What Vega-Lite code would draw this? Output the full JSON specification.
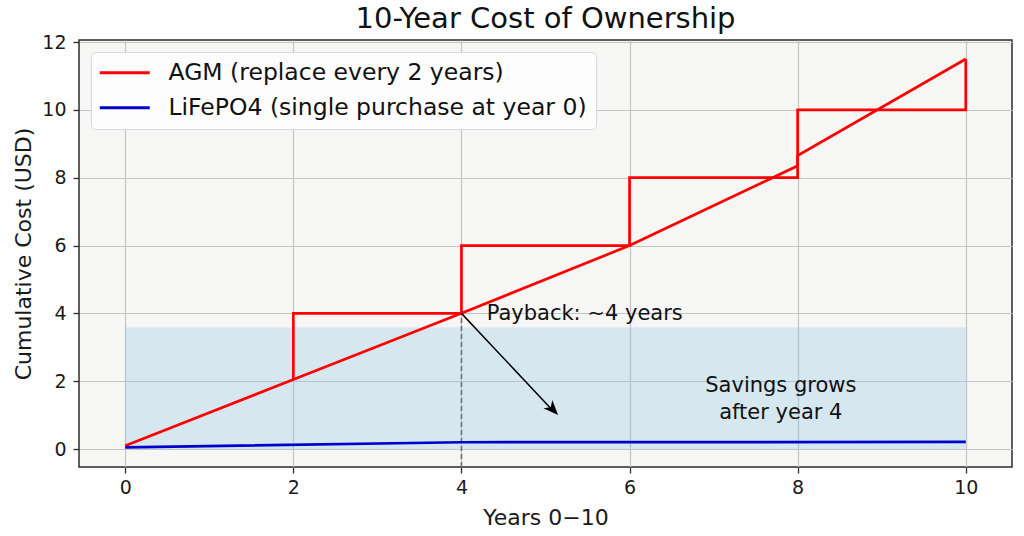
{
  "$schema": "https://vega.github.io/schema/vega-lite/v6.json",
  "description": "10-year cost of ownership: AGM vs LiFePO4",
  "width": 933,
  "height": 427,
  "autosize": {"type": "none"},
  "padding": {"left": 79, "top": 40, "right": 12, "bottom": 69},
  "background": "#ffffff",
  "title": {
    "text": "10-Year Cost of Ownership",
    "fontSize": 29,
    "fontWeight": "normal",
    "color": "#111111",
    "anchor": "middle",
    "baseline": "bottom",
    "offset": 4,
    "dy": 34
  },
  "config": {
    "font": "DejaVu Sans",
    "view": {"fill": "#f6f6f4", "stroke": "#2b2b2b", "strokeWidth": 1.5},
    "axis": {
      "domain": false,
      "grid": true,
      "gridColor": "#c4c4c4",
      "gridWidth": 1.2,
      "tickColor": "#2b2b2b",
      "tickSize": 6,
      "tickWidth": 1.3,
      "labelFontSize": 19,
      "labelColor": "#1a1a1a",
      "titleFontSize": 22,
      "titleFontWeight": "normal",
      "titleColor": "#1a1a1a"
    }
  },
  "encoding": {
    "x": {
      "field": "x",
      "type": "quantitative",
      "scale": {"domain": [-0.55, 10.55], "nice": false, "zero": false},
      "axis": {"values": [0, 2, 4, 6, 8, 10], "title": "Years 0−10", "labelPadding": 5, "titlePadding": 10}
    },
    "y": {
      "field": "y",
      "type": "quantitative",
      "scale": {"domain": [-0.53, 12.06], "nice": false, "zero": false},
      "axis": {"values": [0, 2, 4, 6, 8, 10, 12], "title": "Cumulative Cost (USD)", "labelPadding": 7, "titlePadding": 6}
    }
  },
  "layer": [
    {
      "data": {"values": [{"x": 0, "x2": 10, "y": 0, "y2": 3.58}]},
      "mark": {"type": "rect", "fill": "#8ec6ea", "opacity": 0.3, "stroke": "#8ec6ea", "strokeWidth": 1, "strokeOpacity": 0.4},
      "encoding": {"x2": {"field": "x2"}, "y2": {"field": "y2"}}
    },
    {
      "data": {"values": [{"x": 4, "y": -0.53, "y2": 4}]},
      "mark": {"type": "rule", "color": "#6a6a6a", "strokeWidth": 1.5, "strokeDash": [5, 3]},
      "encoding": {"y2": {"field": "y2"}}
    },
    {
      "data": {
        "values": [
          {"series": "AGM (replace every 2 years)", "part": "trend", "i": 1, "x": 0, "y": 0.1},
          {"series": "AGM (replace every 2 years)", "part": "trend", "i": 2, "x": 2, "y": 2.05},
          {"series": "AGM (replace every 2 years)", "part": "trend", "i": 3, "x": 4, "y": 4.0},
          {"series": "AGM (replace every 2 years)", "part": "trend", "i": 4, "x": 6, "y": 6.0},
          {"series": "AGM (replace every 2 years)", "part": "trend", "i": 5, "x": 8, "y": 8.35},
          {"series": "AGM (replace every 2 years)", "part": "trend", "i": 6, "x": 8, "y": 8.65},
          {"series": "AGM (replace every 2 years)", "part": "trend", "i": 7, "x": 10, "y": 11.5},
          {"series": "AGM (replace every 2 years)", "part": "step", "i": 1, "x": 2, "y": 2.05},
          {"series": "AGM (replace every 2 years)", "part": "step", "i": 2, "x": 2, "y": 4},
          {"series": "AGM (replace every 2 years)", "part": "step", "i": 3, "x": 4, "y": 4},
          {"series": "AGM (replace every 2 years)", "part": "step", "i": 4, "x": 4, "y": 6},
          {"series": "AGM (replace every 2 years)", "part": "step", "i": 5, "x": 6, "y": 6},
          {"series": "AGM (replace every 2 years)", "part": "step", "i": 6, "x": 6, "y": 8},
          {"series": "AGM (replace every 2 years)", "part": "step", "i": 7, "x": 8, "y": 8},
          {"series": "AGM (replace every 2 years)", "part": "step", "i": 8, "x": 8, "y": 10},
          {"series": "AGM (replace every 2 years)", "part": "step", "i": 9, "x": 10, "y": 10},
          {"series": "AGM (replace every 2 years)", "part": "step", "i": 10, "x": 10, "y": 11.5},
          {"series": "LiFePO4 (single purchase at year 0)", "part": "lfp", "i": 1, "x": 0, "y": 0.05},
          {"series": "LiFePO4 (single purchase at year 0)", "part": "lfp", "i": 2, "x": 4, "y": 0.2},
          {"series": "LiFePO4 (single purchase at year 0)", "part": "lfp", "i": 3, "x": 10, "y": 0.21}
        ]
      },
      "mark": {"type": "line", "strokeWidth": 2.7},
      "encoding": {
        "color": {
          "field": "series",
          "type": "nominal",
          "scale": {
            "domain": ["LiFePO4 (single purchase at year 0)", "AGM (replace every 2 years)"],
            "range": ["#0000cd", "#ff0000"]
          },
          "legend": {
            "title": null,
            "orient": "none",
            "legendX": 12,
            "legendY": 12,
            "values": ["AGM (replace every 2 years)", "LiFePO4 (single purchase at year 0)"],
            "labelFontSize": 23.5,
            "labelColor": "#111111",
            "labelLimit": 700,
            "symbolType": "M-5,0H5",
            "symbolSize": 100,
            "symbolStrokeWidth": 3,
            "symbolOffset": 13,
            "labelOffset": 32,
            "rowPadding": 10,
            "padding": 9,
            "fillColor": "#fdfdfd",
            "strokeColor": "#d9d9d9",
            "cornerRadius": 4
          }
        },
        "detail": {"field": "part"},
        "order": {"field": "i"}
      }
    },
    {
      "data": {"values": [{"x": 4, "y": 4, "x2": 5.1, "y2": 1.1}]},
      "mark": {"type": "rule", "color": "#000000", "strokeWidth": 1.5},
      "encoding": {"x2": {"field": "x2"}, "y2": {"field": "y2"}}
    },
    {
      "data": {"values": [{"x": 5.15, "y": 1.0}]},
      "mark": {
        "type": "point",
        "shape": "M0,0L-0.65,1.6L0,1.15L0.65,1.6Z",
        "size": 353,
        "angle": 137,
        "filled": true,
        "color": "#000000",
        "opacity": 1
      }
    },
    {
      "data": {"values": [{"x": 4.3, "y": 3.8, "label": "Payback: ∼4 years"}]},
      "mark": {"type": "text", "align": "left", "baseline": "alphabetic", "fontSize": 21, "color": "#111111"},
      "encoding": {"text": {"field": "label"}}
    },
    {
      "data": {"values": [{"x": 7.8, "y": 1.85, "label": "Savings grows\nafter year 4"}]},
      "mark": {"type": "text", "align": "center", "baseline": "middle", "fontSize": 21, "lineHeight": 27, "lineBreak": "\n", "color": "#111111"},
      "encoding": {"text": {"field": "label"}}
    }
  ]
}
